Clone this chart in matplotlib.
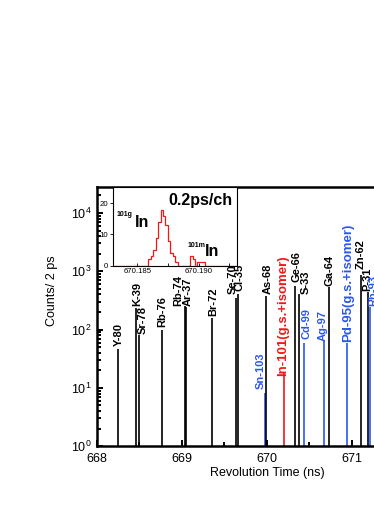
import numpy as np
import matplotlib
matplotlib.use("Agg")
import matplotlib.pyplot as plt
from matplotlib.ticker import MultipleLocator, LogLocator, NullFormatter

plt.rcParams['font.family'] = ['Liberation Sans', 'DejaVu Sans']

# peaks in the revolution time spectrum
nuclides = ['Y-80', 'K-39', 'Sr-78', 'Rb-76', 'Rb-74', 'Ar-37', 'Br-72', 'Se-70',
            'Cl-35', 'Sn-103', 'As-68', 'In-101(g.s.+isomer)', 'Ge-66', 'S-33',
            'Cd-99', 'Ag-97', 'Ga-64', 'Pd-95(g.s.+isomer)', 'Zn-62', 'P-31', 'Rh-93']
peak_t = [668.243, 668.459, 668.490, 668.765, 669.035, 669.047, 669.353, 669.640,
          669.660, 669.975, 669.995, 670.196, 670.330, 670.380,
          670.432, 670.674, 670.730, 670.940, 671.110, 671.188, 671.215]
peak_counts = [47, 237, 82, 100, 250, 240, 155, 350,
               400, 8.2, 375, 18, 560, 400,
               60, 63, 530, 60, 860, 435, 240]
# k = known, b = blue (new), r = red
group = ['k', 'k', 'k', 'k', 'k', 'k', 'k', 'k',
         'k', 'b', 'k', 'r', 'k', 'k',
         'b', 'b', 'k', 'b', 'k', 'k', 'b']

# inset: In-101 histogram, 0.2 ps per channel
inset_start = 670.1831
inset_width = 0.0002
inset_counts = [0, 0, 0, 0, 0, 0, 0, 0, 0, 0, 0, 0, 0, 0,
                2, 3, 5, 9, 14, 18, 16, 13, 8, 4, 3, 1,
                0, 0, 0, 0, 0,
                3, 2, 0, 1, 1, 1,
                0, 0, 0, 0, 0, 0, 0, 0, 0, 0, 0, 0, 0, 0]

colors = {'k': 'black', 'b': '#2b57f0', 'r': '#f01818'}

# label anchor (x in ns, y in counts), placed by hand
label_pos = {
    'Y-80': (668.259, 51), 'K-39': (668.479, 252), 'Sr-78': (668.538, 82),
    'Rb-76': (668.773, 107), 'Rb-74': (668.957, 249), 'Ar-37': (669.067, 249),
    'Br-72': (669.368, 170), 'Se-70': (669.604, 401), 'Cl-35': (669.684, 458),
    'Sn-103': (669.929, 9.2), 'As-68': (670.008, 401),
    'In-101(g.s.+isomer)': (670.192, 15.5), 'Ge-66': (670.350, 638),
    'S-33': (670.459, 401), 'Cd-99': (670.467, 67), 'Ag-97': (670.662, 63),
    'Ga-64': (670.741, 558), 'Pd-95(g.s.+isomer)': (670.957, 59),
    'Zn-62': (671.100, 1082), 'P-31': (671.182, 458), 'Rh-93': (671.255, 252),
}

fig = plt.figure(figsize=(3.74, 5.28), dpi=100)
ax = fig.add_axes([0.259, 0.155, 0.909, 0.491])

for t, c, g in zip(peak_t, peak_counts, group):
    ax.vlines(t, 1, c, color=colors[g], lw=1.2)

for name, g in zip(nuclides, group):
    x, y = label_pos[name]
    fs = 9.5 if 'isomer' in name else 8
    ax.text(x, y * 1.02, name, rotation=90, ha='center', va='bottom',
            fontsize=fs, fontweight='bold', color=colors[g])

ax.set_yscale('log')
ax.set_xlim(668, 672)
ax.set_ylim(1, 2.8e4)
ax.xaxis.set_major_locator(MultipleLocator(1))
ax.xaxis.set_minor_locator(MultipleLocator(0.5))
ax.yaxis.set_major_locator(LogLocator(base=10, numticks=10))
ax.yaxis.set_minor_locator(LogLocator(base=10, subs=np.arange(2, 10), numticks=20))
ax.yaxis.set_minor_formatter(NullFormatter())
ax.tick_params(which='both', direction='in', width=1.4, labelsize=9)
ax.tick_params(which='major', length=4.5, pad=4)
ax.tick_params(which='minor', length=2.8)
ax.tick_params(axis='x', which='major', pad=5)
for s in ax.spines.values():
    s.set_linewidth(1.8)

ax.set_xlabel('Revolution Time (ns)', fontsize=9)
ax.set_ylabel('Counts/ 2 ps', fontsize=9)
ax.xaxis.set_label_coords(0.5, -0.082)
ax.yaxis.set_label_coords(-0.114, 0.6)

# inset
axin = fig.add_axes([0.3013, 0.497, 0.3316, 0.149])
edges = inset_start + inset_width * np.arange(len(inset_counts) + 1)
axin.stairs(inset_counts, edges, color='#f01818', lw=0.9, baseline=0)
axin.set_xlim(670.1830, 670.1931)
axin.set_ylim(0, 25.3)
axin.set_xticks([670.185, 670.190])
axin.set_xticklabels(['670.185', '670.190'])
axin.xaxis.set_minor_locator(MultipleLocator(0.0025))
axin.set_yticks([0, 10, 20])
axin.tick_params(labelsize=5.6, width=0.6, pad=1.5)
axin.tick_params(axis='x', which='both', direction='in', length=2)
axin.tick_params(axis='y', direction='out', length=2)
for s in axin.spines.values():
    s.set_linewidth(0.8)

axin.text(0.448, 0.825, '0.2ps/ch', transform=axin.transAxes, ha='left', va='center',
          fontsize=11.5, fontweight='bold')
axin.text(0.035, 0.643, '101g', transform=axin.transAxes, ha='left', va='center',
          fontsize=5, fontweight='bold')
axin.text(0.18, 0.545, 'In', transform=axin.transAxes, ha='left', va='center',
          fontsize=11.5, fontweight='bold')
axin.text(0.6, 0.26, '101m', transform=axin.transAxes, ha='left', va='center',
          fontsize=5, fontweight='bold')
axin.text(0.744, 0.176, 'In', transform=axin.transAxes, ha='left', va='center',
          fontsize=11.5, fontweight='bold')

fig.savefig('out.png', dpi=100)
